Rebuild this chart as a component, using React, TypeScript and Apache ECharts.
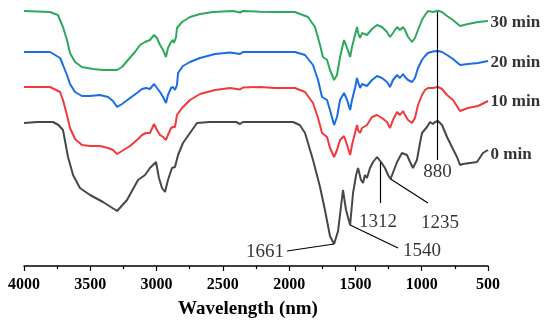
import React, { useEffect, useRef } from "react";
import * as echarts from "echarts";

// x: wavenumber, y: relative transmittance (arbitrary units, curves offset)
const xTicks = [4000, 3500, 3000, 2500, 2000, 1500, 1000, 500];

const series0min: [number, number][] = [
  [4000, 143], [3900, 144], [3804, 144], [3781, 144], [3740, 141], [3706, 136], [3668, 109], [3630, 91],
  [3578, 78], [3502, 71], [3404, 64], [3298, 55], [3223, 66], [3140, 86], [3087, 91], [3050, 98],
  [3004, 104], [2982, 88], [2959, 78], [2936, 74], [2914, 86], [2884, 98], [2861, 99], [2838, 111],
  [2801, 123], [2748, 133], [2695, 143], [2600, 144], [2400, 144], [2371, 142], [2348, 144], [2200, 144],
  [1971, 144], [1920, 141], [1880, 133], [1820, 106], [1767, 79], [1730, 56], [1692, 30], [1661, 22],
  [1631, 35], [1594, 76], [1571, 56], [1540, 41], [1518, 73], [1495, 91], [1480, 98], [1458, 86],
  [1443, 83], [1428, 91], [1413, 88], [1390, 98], [1367, 104], [1337, 109], [1307, 104], [1277, 98],
  [1254, 91], [1235, 87], [1209, 96], [1186, 104], [1149, 113], [1111, 111], [1088, 104], [1066, 98],
  [1036, 106], [1013, 123], [998, 133], [960, 139], [938, 144], [915, 142], [900, 144], [877, 145],
  [847, 141], [809, 129], [772, 119], [734, 109], [711, 101], [689, 102], [636, 103], [583, 104],
  [538, 113], [500, 116],
];

const series10min: [number, number][] = [
  [4000, 179], [3804, 179], [3728, 174], [3706, 166], [3676, 151], [3653, 138], [3615, 127], [3563, 121],
  [3502, 120], [3427, 120], [3366, 118], [3329, 116], [3298, 112], [3261, 115], [3200, 120], [3148, 126],
  [3110, 131], [3080, 133], [3050, 133], [3019, 142], [2997, 136], [2974, 131], [2951, 129], [2929, 126],
  [2914, 131], [2891, 138], [2876, 139], [2861, 139], [2846, 151], [2808, 158], [2748, 166], [2672, 172],
  [2559, 176], [2446, 178], [2371, 176.5], [2348, 178.5], [2220, 179], [2107, 178], [1956, 178], [1880, 174],
  [1820, 163], [1782, 148], [1752, 133], [1714, 129], [1692, 118], [1661, 109], [1639, 116], [1616, 126],
  [1586, 130], [1563, 121], [1540, 111], [1526, 121], [1503, 133], [1488, 141], [1480, 136], [1465, 133],
  [1450, 138], [1413, 141], [1375, 149], [1337, 151], [1300, 148], [1262, 144], [1239, 138], [1217, 146],
  [1186, 154], [1164, 151], [1141, 155], [1126, 151], [1103, 146], [1073, 143], [1051, 148], [1028, 161],
  [998, 171], [975, 176], [953, 178], [915, 178], [877, 179], [847, 177], [809, 171], [764, 166],
  [711, 155], [651, 158], [575, 160], [500, 165],
];

const series20min: [number, number][] = [
  [4000, 214], [3804, 214], [3728, 208], [3706, 201], [3676, 191], [3653, 182], [3615, 174], [3563, 170],
  [3502, 170], [3427, 171], [3366, 169], [3329, 165], [3298, 159], [3261, 162], [3200, 168], [3148, 173],
  [3110, 177], [3080, 178], [3050, 177], [3019, 182], [2997, 178], [2974, 174], [2951, 169], [2929, 163],
  [2914, 171], [2891, 178], [2876, 179], [2861, 176], [2846, 181], [2838, 193], [2801, 200], [2748, 204],
  [2672, 208], [2559, 212], [2446, 213.5], [2371, 212], [2348, 214], [2220, 214], [2107, 214], [1956, 214],
  [1880, 211], [1820, 201], [1782, 186], [1752, 169], [1714, 166], [1692, 156], [1661, 141], [1639, 149],
  [1616, 166], [1586, 173], [1563, 166], [1540, 156], [1526, 166], [1503, 178], [1488, 188], [1480, 184],
  [1465, 178], [1450, 182], [1413, 180], [1375, 186], [1337, 190], [1300, 188], [1262, 184], [1239, 179],
  [1217, 186], [1186, 191], [1164, 188], [1141, 192], [1126, 189], [1103, 186], [1073, 184], [1051, 188],
  [1028, 198], [998, 206], [975, 210], [953, 213], [915, 214.5], [877, 215], [847, 214], [809, 211],
  [764, 207], [711, 201], [651, 202], [575, 203], [500, 205],
];

const series30min: [number, number][] = [
  [4000, 255], [3804, 254], [3744, 251], [3706, 239], [3676, 226], [3653, 213], [3615, 204], [3563, 199],
  [3480, 197], [3404, 196], [3298, 196], [3261, 199], [3216, 206], [3163, 214], [3125, 221], [3087, 224],
  [3050, 226], [3019, 231], [2997, 228], [2974, 221], [2951, 216], [2929, 209], [2914, 218], [2891, 224],
  [2876, 226], [2869, 223], [2853, 229], [2846, 238], [2808, 244], [2748, 249], [2672, 252], [2574, 254],
  [2423, 255], [2371, 253.5], [2348, 255], [2220, 254.3], [2107, 254], [1956, 254], [1858, 249], [1805, 239],
  [1767, 221], [1745, 209], [1714, 206], [1692, 196], [1661, 186], [1639, 191], [1616, 209], [1586, 226],
  [1563, 218], [1540, 209], [1526, 219], [1503, 231], [1488, 239], [1480, 233], [1465, 228], [1450, 233],
  [1413, 231], [1375, 237], [1337, 241], [1300, 239], [1262, 234], [1239, 229], [1217, 233], [1186, 239],
  [1164, 236], [1141, 239], [1126, 236], [1103, 229], [1073, 224], [1051, 228], [1028, 236], [998, 246],
  [975, 251], [953, 255], [915, 254], [877, 255.3], [847, 254], [809, 250], [764, 246], [711, 240],
  [651, 242], [575, 244], [500, 245],
];

const seriesNames = ["0 min", "10 min", "20 min", "30 min"];
const seriesColors = ["#474747", "#f2393b", "#1a6de6", "#2ea95c"];
// vertical position of each series name label (data units, right of the plot)
const seriesLabelY = [113, 165.5, 205, 245];

// annotation leader lines: from peak point to label end
const annoLines: [[number, number], [number, number]][] = [
  [[1661, 22], [2016, 15]],
  [[1540, 41], [1179, 18]],
  [[1312, 104], [1312, 63]],
  [[1235, 87], [953, 63]],
  [[880, 254], [880, 106]],
];
const annoLabels = ["1661", "1540", "1312", "1235", "880"];
const annoLabelPos: [number, number][] = [
  [2182, 16], [998, 17], [1330, 46], [862, 45], [880, 96],
];

const serif = "'Times New Roman', 'Liberation Serif', serif";

export default function App() {
  const ref = useRef<HTMLDivElement>(null);
  useEffect(() => {
    document.body.style.margin = "0";
    const chart = echarts.init(ref.current!, null, { renderer: "svg" });
    const dataSets = [series0min, series10min, series20min, series30min];
    const lineSeries = dataSets.map((d, i) => ({
      type: "line",
      name: seriesNames[i],
      data: d,
      showSymbol: false,
      symbol: "none",
      lineStyle: { color: seriesColors[i], width: 2 },
      itemStyle: { color: seriesColors[i] },
      z: 2,
    }));
    chart.setOption({
      animation: false,
      grid: { left: 24, right: 62, top: 10, bottom: 59 },
      xAxis: {
        type: "value",
        min: 500,
        max: 4000,
        interval: 500,
        inverse: true,
        name: "Wavelength (nm)",
        nameLocation: "middle",
        nameGap: 32,
        nameTextStyle: {
          fontFamily: serif,
          fontWeight: "bold",
          fontSize: 19,
          color: "#000",
          padding: [0, 16, 0, 0],
        },
        axisLine: { lineStyle: { color: "#000", width: 1.5 } },
        axisTick: { show: true, length: 5, lineStyle: { color: "#000", width: 1.2 } },
        minorTick: { show: true, splitNumber: 2, length: 3, lineStyle: { color: "#000", width: 1.2 } },
        axisLabel: {
          fontFamily: serif,
          fontWeight: "bold",
          fontSize: 16,
          color: "#000",
          margin: 9,
          formatter: (v: number) => (xTicks.includes(v) ? String(v) : ""),
        },
        splitLine: { show: false },
      },
      yAxis: {
        type: "value",
        min: 0,
        max: 256,
        show: false,
      },
      series: [
        ...lineSeries,
        {
          type: "scatter",
          name: "series labels",
          data: seriesNames.map((n, i) => ({ value: [500, seriesLabelY[i]], name: n })),
          symbolSize: 1,
          itemStyle: { color: "rgba(0,0,0,0)" },
          label: {
            show: true,
            position: "right",
            distance: 2,
            formatter: (p: any) => p.name,
            fontFamily: serif,
            fontWeight: "bold",
            fontSize: 17,
            color: "#000",
          },
          z: 5,
        },
        {
          type: "scatter",
          name: "annotations",
          data: annoLabelPos.map((p, i) => ({ value: p, name: annoLabels[i] })),
          symbolSize: 1,
          itemStyle: { color: "rgba(0,0,0,0)" },
          label: {
            show: true,
            position: "inside",
            formatter: (p: any) => p.name,
            fontFamily: serif,
            fontSize: 19,
            color: "#000",
          },
          markLine: {
            silent: true,
            symbol: "none",
            label: { show: false },
            lineStyle: { color: "#000", width: 1.2, type: "solid" },
            data: annoLines.map(([a, b]) => [{ coord: a }, { coord: b }]),
          },
          z: 5,
        },
      ],
    });
    return () => chart.dispose();
  }, []);
  return (
    <div
      ref={ref}
      style={{ position: "fixed", left: 0, top: 0, width: 550, height: 325 }}
    />
  );
}
